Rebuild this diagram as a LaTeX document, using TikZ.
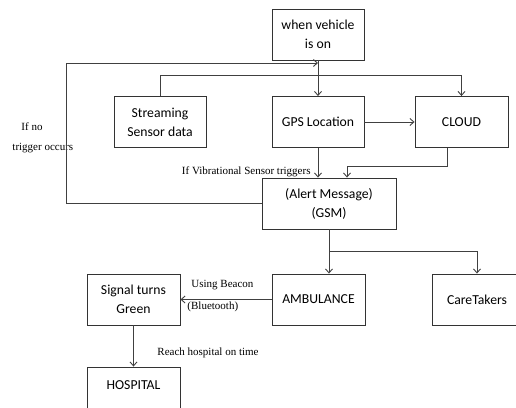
\documentclass[tikz,border=0pt]{standalone}
\usepackage{fontspec}
\setmainfont{Carlito}
\newfontfamily\lblfont{Liberation Serif}
\usetikzlibrary{arrows.meta}

\begin{document}
\begin{tikzpicture}[x=1pt, y=-1pt, line width=0.9pt, draw=black!75,
	>={Straight Barb[length=4pt,width=7pt]}]
	\tikzstyle{block} = [draw=black!80, rectangle, inner sep=0pt, align=center, minimum width=92pt, minimum height=51pt, font=\fontsize{13.7}{19}\selectfont]
	\tikzstyle{lbl} = [inner sep=0pt, font=\lblfont\fontsize{11}{13}\selectfont]
	\useasboundingbox (0,0) rectangle (516,407);
	\clip (0,0) rectangle (516,407);
	\node [block] (vehicle) at (318, 34.5) {when vehicle\\is on};
	\node [block] (stream) at (160, 122) {Streaming\\Sensor data};
	\node [block] (gps) at (318, 122) {GPS Location};
	\node [block, minimum width=93pt] (cloud) at (461.5, 122) {CLOUD};
	\node [block, minimum width=134pt] (alert) at (329, 203.5) {(Alert Message)\\(GSM)};
	\node [block, minimum width=93pt] (signal) at (133.5, 299.5) {Signal turns\\Green};
	\node [block, minimum width=93pt] (amb) at (318.5, 299.5) {AMBULANCE};
	\node [block, minimum width=90pt] (care) at (477, 299.5) {CareTakers};
	\node [block, minimum width=93pt, minimum height=60pt] (hosp) at (133.5, 397) {};
	\node [inner sep=0pt, font=\fontsize{13.7}{19}\selectfont] (hosptxt) at (133.5, 385) {HOSPITAL};
	\node [lbl, anchor=west] (ifno) at (21, 127) {If no};
	\node [lbl, anchor=west] (notrig) at (12, 148) {trigger occurs};
	\node [lbl, anchor=east] (vib) at (311, 172) {If Vibrational Sensor triggers};
	\node [lbl, anchor=west] (beacon) at (191, 285) {Using Beacon};
	\node [lbl, anchor=west] (bt) at (187, 307) {(Bluetooth)};
	\node [lbl, anchor=west] (reach) at (157, 353) {Reach hospital on time};
	\coordinate (loop) at (66, 63);
	\coordinate (join) at (318, 63);
	\coordinate (bus) at (0, 75);
	\coordinate (cdrop) at (447, 0);
	\coordinate (cjoin) at (347, 166);
	\coordinate (split) at (329, 251);
	\draw [->] (vehicle)--(gps);
	\draw [->] (alert.west) -| (loop) -- (join);
	\draw [->] (stream.north) |- (cloud.north |- bus) -- (cloud.north);
	\draw [->] (gps)--(cloud);
	\draw [->] (gps.south)--(gps.south |- alert.north);
	\draw [->] (cdrop |- cloud.south) |- (cjoin) -- (cjoin |- alert.north);
	\draw [-] (alert.south)--(split);
	\draw [->] (split)--(split |- amb.north);
	\draw [->] (split) -| (care.north);
	\draw [->] (amb)--(signal);
	\draw [->] (signal)--(hosp);
\end{tikzpicture}
\end{document}
